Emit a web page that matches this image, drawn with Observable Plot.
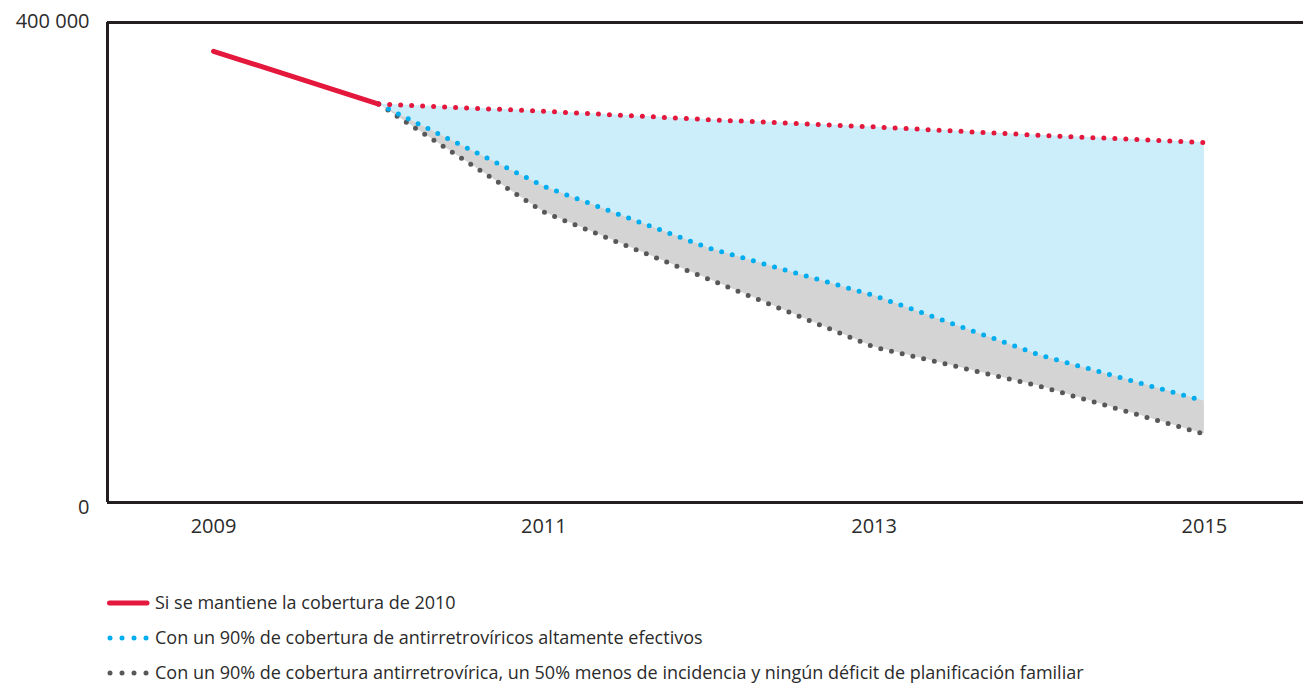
<!DOCTYPE html>
<html>
<head>
<meta charset="utf-8">
<script src="https://cdn.jsdelivr.net/npm/d3@7"></script>
<script src="https://cdn.jsdelivr.net/npm/@observablehq/plot@0.6"></script>
<style>
  html, body { margin: 0; padding: 0; background: #fff; }
  body { font-family: "Open Sans", "Noto Sans", sans-serif; color: #2b2b2b; width: 1303px; }
  #legend { padding-top: 25px; padding-left: 107px; }
  .row { height: 35px; display: flex; align-items: center; font-size: 18px; font-weight: 400; white-space: nowrap; line-height: 1.2; }
  .row svg { margin-right: 5px; flex: none; }
</style>
</head>
<body>
<div id="chart"></div>
<div id="legend"></div>
<script>
// Historical (2009-2010) values
const histYears = [2009, 2010];
const histValues = [376000, 332000];

// Scenario years
const scenarioYears = [2010, 2011, 2012, 2013, 2014, 2015];
// Scenario: keep 2010 coverage
const keepCoverage = [332000, 326000, 319000, 313000, 306000, 300000];
// Scenario: 90% ARV coverage
const arv90 = [332000, 263500, 212000, 172500, 123000, 84500];
// Scenario: 90% ARV, 50% less incidence, no family planning deficit
const arv90Plus = [332000, 242000, 186000, 129500, 97000, 57000];

const xTicks = [2009, 2011, 2013, 2015];
const xDomain = [2008.358, 2015.6];
const yDomain = [0, 400000];
const yTickTop = [400000];
const yTickBottom = [0];
const yTickLabel = d => d === 0 ? "0" : d3.format(",")(d).replace(/,/g, " ");

const legendLabels = [
  "Si se mantiene la cobertura de 2010",
  "Con un 90% de cobertura de antirretrovíricos altamente efectivos",
  "Con un 90% de cobertura antirretrovírica, un 50% menos de incidencia y ningún déficit de planificación familiar"
];

const RED = "#e4173c", BLUE = "#00aeef", GRAY = "#58585a";
const INK = "#231f20";

const hist = histYears.map((year, i) => ({year, value: histValues[i]}));
const scen = scenarioYears.map((year, i) => ({year, red: keepCoverage[i], blue: arv90[i], gray: arv90Plus[i]}));

const dotted = {strokeWidth: 5, strokeDasharray: "0 11", strokeLinecap: "round"};
const tickText = {fontSize: 20, fontWeight: 400, fill: "#2b2b2b"};

const chart = Plot.plot({
  width: 1303,
  height: 560,
  marginLeft: 107,
  marginRight: 0,
  marginTop: 22,
  marginBottom: 58,
  style: {fontFamily: "'Open Sans', 'Noto Sans', sans-serif", color: INK, background: "#fff"},
  x: {domain: xDomain, axis: null},
  y: {domain: yDomain, axis: null},
  marks: [
    Plot.areaY(scen, {x: "year", y1: "blue", y2: "red", fill: "#ccedfa"}),
    Plot.areaY(scen, {x: "year", y1: "gray", y2: "blue", fill: "#d4d4d4"}),
    Plot.ruleY(yDomain, {stroke: INK, strokeWidth: 3}),
    Plot.ruleX([xDomain[0]], {stroke: INK, strokeWidth: 3, y1: yDomain[0], y2: yDomain[1]}),
    Plot.line(scen, {x: "year", y: "gray", stroke: GRAY, ...dotted}),
    Plot.line(scen, {x: "year", y: "blue", stroke: BLUE, ...dotted}),
    Plot.line(scen, {x: "year", y: "red", stroke: RED, ...dotted}),
    Plot.line(hist, {x: "year", y: "value", stroke: RED, strokeWidth: 5, strokeLinecap: "round"}),
    Plot.text(xTicks, {x: d => d, y: () => 0, dy: 24, text: d => String(d), textAnchor: "middle", ...tickText}),
    Plot.text(yTickTop, {y: d => d, frameAnchor: "left", dx: -18, dy: -1, text: yTickLabel, textAnchor: "end", ...tickText}),
    Plot.text(yTickBottom, {y: d => d, frameAnchor: "left", dx: -18, dy: 5, text: yTickLabel, textAnchor: "end", ...tickText})
  ]
});
document.getElementById("chart").appendChild(chart);

// Legend
const legend = d3.select("#legend");
const swatchColors = [RED, BLUE, GRAY];
legendLabels.forEach((label, i) => {
  const row = legend.append("div").attr("class", "row");
  const svg = row.append("svg").attr("width", 43).attr("height", 10);
  if (i === 0) {
    svg.append("line").attr("x1", 2.5).attr("x2", 40).attr("y1", 5).attr("y2", 5)
      .attr("stroke", swatchColors[i]).attr("stroke-width", 5).attr("stroke-linecap", "round");
  } else {
    [3, 15, 27, 39].forEach(cx => svg.append("circle").attr("cx", cx).attr("cy", 5).attr("r", 2.5).attr("fill", swatchColors[i]));
  }
  row.append("span").text(label);
});
</script>
</body>
</html>
